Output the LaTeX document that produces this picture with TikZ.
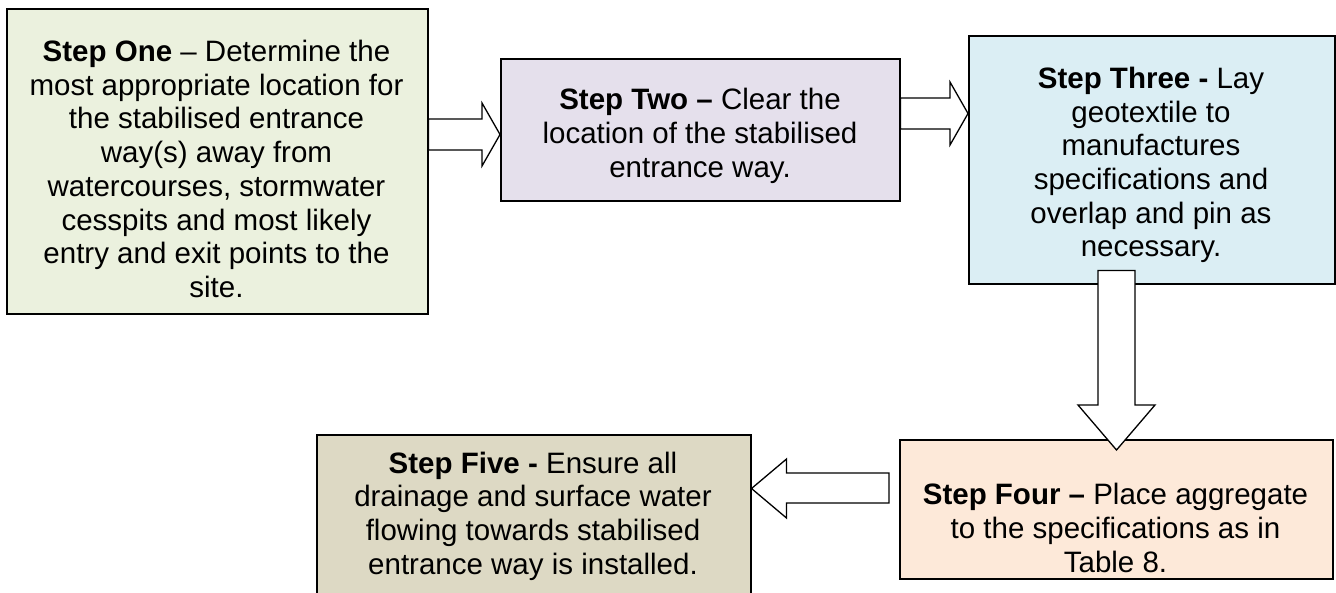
\documentclass[tikz,border=0pt]{standalone}
\usepackage{fontspec}
\setmainfont{Liberation Sans}
\usetikzlibrary{calc}
\definecolor{cone}{HTML}{EBF1DE}
\definecolor{ctwo}{HTML}{E5E0EC}
\definecolor{cthree}{HTML}{DBEEF4}
\definecolor{cfour}{HTML}{FDE9D9}
\definecolor{cfive}{HTML}{DDD9C4}
\begin{document}
\begin{tikzpicture}[x=1pt,y=-1pt,
  stepbox/.style={draw=black, line width=1.5pt, inner sep=0pt, anchor=north west},
  txt/.style={align=center, font=\fontsize{29.5}{33.7}\selectfont, inner sep=0pt},
  blk/.style={draw=black, fill=white, line width=1.3pt, line join=miter}]
\useasboundingbox (0,0) rectangle (1336,592);

\node[stepbox, fill=cone, minimum width=421pt, minimum height=305pt] (one) at (6,8) {};
\node[stepbox, fill=ctwo, minimum width=399pt, minimum height=142pt] (two) at (500,58) {};
\node[stepbox, fill=cthree, minimum width=366pt, minimum height=248pt] (three) at (968,35) {};
\node[stepbox, fill=cfour, minimum width=433pt, minimum height=139pt] (four) at (899,439) {};
\node[stepbox, fill=cfive, minimum width=434pt, minimum height=160pt] (five) at (316,434) {};

\node[txt] (tone) at (216.5,169) {\textbf{Step One} – Determine the\\most appropriate location for\\the stabilised entrance\\way(s) away from\\watercourses, stormwater\\cesspits and most likely\\entry and exit points to the\\site.};
\node[txt] (ttwo) at (700,136) {\textbf{Step Two –} Clear the\\location of the stabilised\\entrance way.};
\node[txt] (tthree) at (1151,165) {\textbf{Step Three -} Lay\\geotextile to\\manufactures\\specifications and\\overlap and pin as\\necessary.};
\node[txt] (tfour) at (1115.5,528) {\textbf{Step Four –} Place aggregate\\to the specifications as in\\Table 8.};
\node[txt] (tfive) at (533,516) {\textbf{Step Five -} Ensure all\\drainage and surface water\\flowing towards stabilised\\entrance way is installed.};

% arrow one -> two
\draw[blk] let \p1=(one.east), \p2=(two.west) in
  (\x1,119) -- (\x2-18pt,119) -- (\x2-18pt,103) -- (\x2,134.5) -- (\x2-18pt,166) -- (\x2-18pt,150) -- (\x1,150) -- cycle;
% arrow two -> three
\draw[blk] let \p1=(two.east), \p2=(three.west) in
  (\x1,98) -- (\x2-18pt,98) -- (\x2-18pt,82) -- (\x2,113.5) -- (\x2-18pt,145) -- (\x2-18pt,129) -- (\x1,129) -- cycle;
% arrow three -> four
\draw[blk] let \p1=(three.south), \p2=(four.north) in
  (1098,\y1+14pt) -- (1098,405) -- (1078,405) -- (1116.5,\y2-11pt) -- (1155,405) -- (1135,405) -- (1135,\y1+14pt) -- cycle;
% arrow four -> five
\draw[blk] let \p1=(four.west), \p2=(five.east) in
  (\x1-10pt,473) -- (\x2+35pt,473) -- (\x2+35pt,459) -- (\x2,488.5) -- (\x2+35pt,518) -- (\x2+35pt,503) -- (\x1-10pt,503) -- cycle;
\end{tikzpicture}
\end{document}
